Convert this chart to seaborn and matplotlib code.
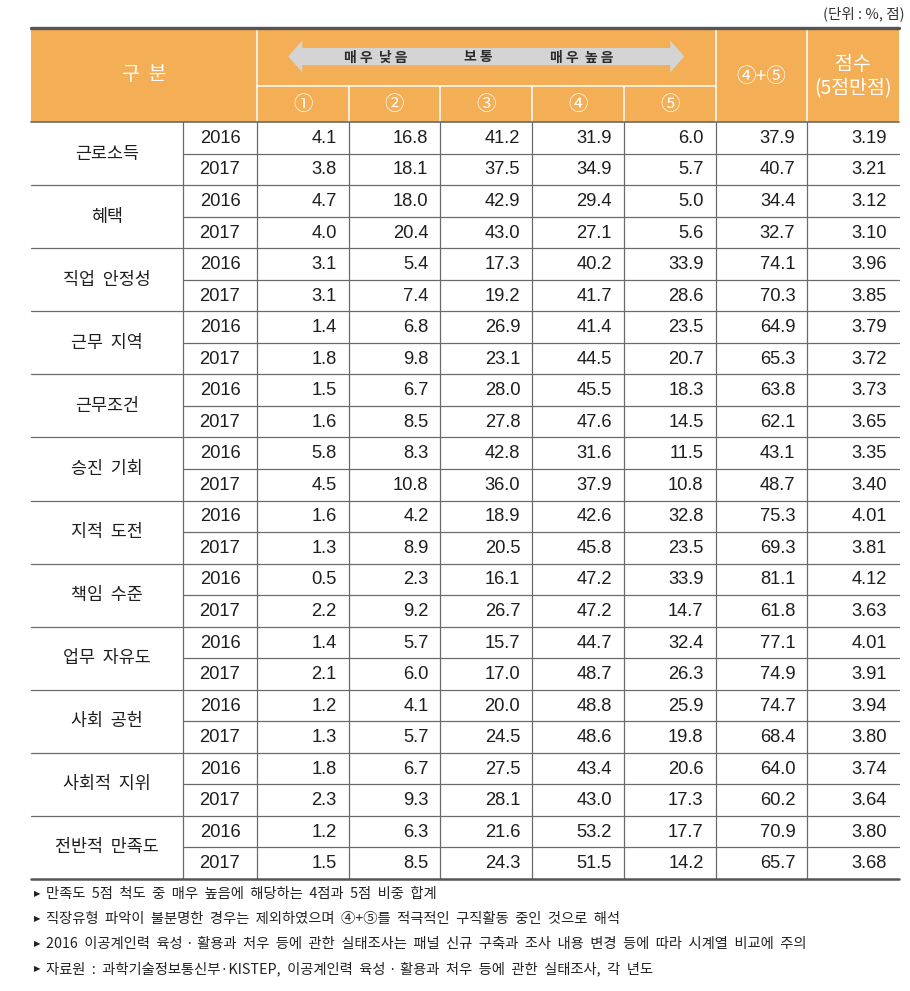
import matplotlib
matplotlib.use("Agg")
import matplotlib.pyplot as plt
from matplotlib import font_manager as fm
from matplotlib.colors import ListedColormap
from matplotlib.patches import Rectangle, Polygon
import seaborn as sns
import pandas as pd

# ---------------- data ----------------
categories = ['근로소득', '혜택', '직업  안정성', '근무  지역', '근무조건', '승진  기회',
              '지적  도전', '책임  수준', '업무  자유도', '사회  공헌', '사회적  지위', '전반적  만족도']
years = ['2016', '2017']
col_labels = ['①', '②', '③', '④', '⑤']

v1 = [4.1, 3.8, 4.7, 4.0, 3.1, 3.1, 1.4, 1.8, 1.5, 1.6, 5.8, 4.5,
      1.6, 1.3, 0.5, 2.2, 1.4, 2.1, 1.2, 1.3, 1.8, 2.3, 1.2, 1.5]
v2 = [16.8, 18.1, 18.0, 20.4, 5.4, 7.4, 6.8, 9.8, 6.7, 8.5, 8.3, 10.8,
      4.2, 8.9, 2.3, 9.2, 5.7, 6.0, 4.1, 5.7, 6.7, 9.3, 6.3, 8.5]
v3 = [41.2, 37.5, 42.9, 43.0, 17.3, 19.2, 26.9, 23.1, 28.0, 27.8, 42.8, 36.0,
      18.9, 20.5, 16.1, 26.7, 15.7, 17.0, 20.0, 24.5, 27.5, 28.1, 21.6, 24.3]
v4 = [31.9, 34.9, 29.4, 27.1, 40.2, 41.7, 41.4, 44.5, 45.5, 47.6, 31.6, 37.9,
      42.6, 45.8, 47.2, 47.2, 44.7, 48.7, 48.8, 48.6, 43.4, 43.0, 53.2, 51.5]
v5 = [6.0, 5.7, 5.0, 5.6, 33.9, 28.6, 23.5, 20.7, 18.3, 14.5, 11.5, 10.8,
      32.8, 23.5, 33.9, 14.7, 32.4, 26.3, 25.9, 19.8, 20.6, 17.3, 17.7, 14.2]
v45 = [37.9, 40.7, 34.4, 32.7, 74.1, 70.3, 64.9, 65.3, 63.8, 62.1, 43.1, 48.7,
       75.3, 69.3, 81.1, 61.8, 77.1, 74.9, 74.7, 68.4, 64.0, 60.2, 70.9, 65.7]
score = [3.19, 3.21, 3.12, 3.10, 3.96, 3.85, 3.79, 3.72, 3.73, 3.65, 3.35, 3.40,
         4.01, 3.81, 4.12, 3.63, 4.01, 3.91, 3.94, 3.80, 3.74, 3.64, 3.80, 3.68]

footnotes = [
    '만족도  5점  척도  중  매우  높음에  해당하는  4점과  5점  비중  합계',
    '직장유형  파악이  불분명한  경우는  제외하였으며  ④+⑤를  적극적인  구직활동  중인  것으로  해석',
    '2016  이공계인력  육성 · 활용과  처우  등에  관한  실태조사는  패널  신규  구축과  조사  내용  변경  등에  따라  시계열  비교에  주의',
    '자료원  :  과학기술정보통신부·KISTEP,  이공계인력  육성 · 활용과  처우  등에  관한  실태조사,  각  년도',
]

df = pd.DataFrame({'1': v1, '2': v2, '3': v3, '4': v4, '5': v5, '45': v45, 'score': score})

# ---------------- style ----------------
sns.set_theme(style="white")
KR = ['Noto Sans CJK KR', 'DejaVu Sans']
plt.rcParams['font.family'] = KR

_names = {f.name for f in fm.fontManager.ttflist}
if 'Liberation Sans Narrow' in _names:
    NUM, NUM_SIZE = ['Liberation Sans Narrow'], 14.5
elif 'Liberation Sans' in _names:
    NUM, NUM_SIZE = ['Liberation Sans'], 13.2
else:
    NUM, NUM_SIZE = KR, 13.2

ORANGE = '#F4AE55'
ARROW = '#D4D4D4'
LINE = '#6A6A6A'
DARK = '#555555'
TXT = '#1E1E1E'

W, H = 910, 991
fig = plt.figure(figsize=(W / 100, H / 100), dpi=100)

# layout (pixels)
L, R = 31, 899
x_cat, x_year = 183, 257
y_top, y_sub, y_head, y_bot = 28, 86, 122, 879
nrows = len(v1)
rh = (y_bot - y_head) / nrows
ncol = df.shape[1]
cw = (R - x_year) / ncol

# numeric block as a seaborn heatmap (white cells)
axh = fig.add_axes([x_year / W, 1 - y_bot / H, (R - x_year) / W, (y_bot - y_head) / H])
sns.heatmap(df, cmap=ListedColormap(['white']), cbar=False, ax=axh,
            xticklabels=False, yticklabels=False, linewidths=0)
axh.set_axis_off()
pad = 12 / cw
for i in range(nrows):
    for j, col in enumerate(df.columns):
        val = df.iloc[i, j]
        s = f'{val:.2f}' if col == 'score' else f'{val:.1f}'
        axh.text(j + 1 - pad, i + 0.52, s, ha='right', va='center',
                 fontsize=NUM_SIZE, family=NUM, color=TXT)

# overlay axes in pixel coordinates
ax = fig.add_axes([0, 0, 1, 1], facecolor='none')
ax.set_xlim(0, W)
ax.set_ylim(H, 0)
ax.set_axis_off()

# header background
ax.add_patch(Rectangle((L, y_top), R - L, y_head - y_top, facecolor=ORANGE, edgecolor='none'))
# white header lines
col_x = [x_year + k * cw for k in range(ncol + 1)]
for xv in [x_year, col_x[5], col_x[6]]:
    ax.plot([xv, xv], [y_top, y_head], color='white', lw=1.1)
ax.plot([x_year, col_x[5]], [y_sub, y_sub], color='white', lw=1.1)
for k in range(1, 5):
    ax.plot([col_x[k], col_x[k]], [y_sub, y_head], color='white', lw=1.1)

# arrow
cx = (x_year + col_x[5]) / 2
half, head = 198, 14
yc, sh, hh = 56.5, 8.5, 16
poly = [(cx - half, yc), (cx - half + head, yc - hh), (cx - half + head, yc - sh),
        (cx + half - head, yc - sh), (cx + half - head, yc - hh), (cx + half, yc),
        (cx + half - head, yc + hh), (cx + half - head, yc + sh),
        (cx - half + head, yc + sh), (cx - half + head, yc + hh)]
ax.add_patch(Polygon(poly, closed=True, facecolor=ARROW, edgecolor='none'))
for xx, t in [(cx - 111, '매 우  낮 음'), (cx - 8, '보 통'), (cx + 95, '매 우  높 음')]:
    ax.text(xx, yc + 1, t, ha='center', va='center', fontsize=10, color='#2A2A2A',
            fontweight='bold')

# header texts
ax.text((L + x_year) / 2, 75, '구  분', ha='center', va='center', fontsize=14, color='white')
for k, lab in enumerate(col_labels):
    ax.text((col_x[k] + col_x[k + 1]) / 2, 104, lab, ha='center', va='center',
            fontsize=14, color='white')
ax.text((col_x[5] + col_x[6]) / 2, 77, '④+⑤', ha='center', va='center', fontsize=14, color='white')
ax.text((col_x[6] + R) / 2, 64, '점수', ha='center', va='center', fontsize=14, color='white')
ax.text((col_x[6] + R) / 2, 89, '(5점만점)', ha='center', va='center', fontsize=14, color='white')

# unit label
ax.text(905, 14, '(단위 : %, 점)', ha='right', va='center', fontsize=10.5, color='#333333')

# body grid lines
for i in range(1, nrows):
    yv = y_head + i * rh
    x0 = L if i % 2 == 0 else x_cat
    ax.plot([x0, R], [yv, yv], color=LINE, lw=0.9)
for xv in [x_cat] + col_x[:-1]:
    ax.plot([xv, xv], [y_head, y_bot], color=LINE, lw=0.9)
ax.plot([L, R], [y_head, y_head], color=LINE, lw=1.2)
ax.plot([L, R], [y_top, y_top], color=DARK, lw=2.4)
ax.plot([L, R], [y_bot, y_bot], color=DARK, lw=1.8)

# category and year labels
for g, cat in enumerate(categories):
    ax.text((L + x_cat) / 2, y_head + (2 * g + 1) * rh, cat, ha='center', va='center',
            fontsize=12.5, color=TXT)
    for k, yr in enumerate(years):
        ax.text((x_cat + x_year) / 2, y_head + (2 * g + k + 0.52) * rh, yr, ha='center',
                va='center', fontsize=NUM_SIZE, family=NUM, color=TXT)

# footnotes
for n, fn in enumerate(footnotes):
    yv = 894 + n * 25
    ax.text(37, yv, '▶', ha='center', va='center', fontsize=6, color='#222222',
            family=['DejaVu Sans'])
    ax.text(46, yv, fn, ha='left', va='center', fontsize=10.3, color='#222222')

fig.savefig('out.png', dpi=100)
